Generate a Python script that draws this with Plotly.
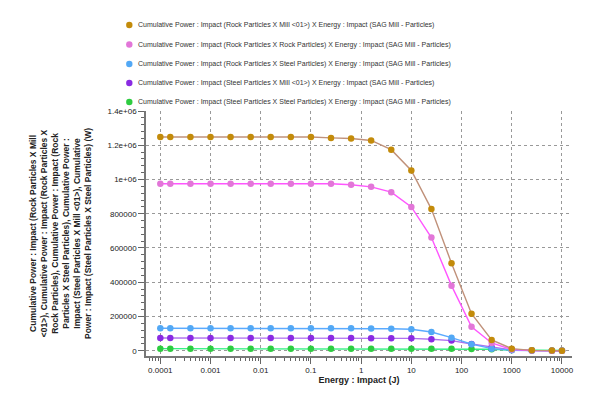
import plotly.graph_objects as go

# energy bins (J)
energy = [0.0001, 0.000158, 0.000398, 0.001, 0.00251, 0.00631, 0.0158, 0.0398, 0.1, 0.251,
          0.631, 1.58, 3.98, 10, 25.1, 63.1, 158, 398, 1000, 2510, 6310, 10000]

rock_mill = [1248000, 1248000, 1248000, 1248000, 1248000, 1248000, 1248000, 1248000, 1248000, 1243000,
             1239000, 1228000, 1174000, 1053000, 827000, 511000, 216000, 63000, 12000, 2000, 500, 0]
rock_rock = [975000, 975000, 975000, 975000, 975000, 975000, 975000, 975000, 975000, 975000,
             969000, 957000, 926000, 840000, 661000, 380000, 140000, 45000, 7000, 1000, 100, 0]
rock_steel = [131000, 131000, 131000, 131000, 131000, 131000, 131000, 131000, 131000, 131000,
              131000, 129000, 128000, 125000, 109000, 76000, 38000, 12000, 3000, 300, 0, 0]
steel_mill = [74000, 74000, 74000, 74000, 74000, 74000, 74000, 74000, 74000, 74000,
              74000, 73000, 73000, 72000, 67000, 59000, 39000, 20000, 5000, 1000, 200, 0]
steel_steel = [12000, 12000, 12000, 12000, 12000, 12000, 12000, 12000, 12000, 12000,
               12000, 12000, 12000, 12000, 12000, 11500, 10000, 8000, 4000, 2000, 1500, 1000]

names = [
    'Cumulative Power : Impact (Rock Particles X Mill &lt;01&gt;) X Energy : Impact (SAG Mill - Particles)',
    'Cumulative Power : Impact (Rock Particles X Rock Particles) X Energy : Impact (SAG Mill - Particles)',
    'Cumulative Power : Impact (Rock Particles X Steel Particles) X Energy : Impact (SAG Mill - Particles)',
    'Cumulative Power : Impact (Steel Particles X Mill &lt;01&gt;) X Energy : Impact (SAG Mill - Particles)',
    'Cumulative Power : Impact (Steel Particles X Steel Particles) X Energy : Impact (SAG Mill - Particles)',
]

x_tickvals = [0.0001, 0.001, 0.01, 0.1, 1, 10, 100, 1000, 10000]
x_ticktext = ['0.0001', '0.001', '0.01', '0.1', '1', '10', '100', '1000', '10000']
y_tickvals = [0, 200000, 400000, 600000, 800000, 1000000, 1200000, 1400000]
y_ticktext = ['0', '200000', '400000', '600000', '800000', '1e+06', '1.2e+06', '1.4e+06']

marker_colors = ['#c38b0a', '#e276d8', '#52a8f5', '#8a2be2', '#2ecc40']
line_colors = ['#c0917a', '#ff55ff', '#5aaaff', '#b070f0', '#30f080']

series = [rock_mill, rock_rock, rock_steel, steel_mill, steel_steel]

# page body has an 8px margin, so the margins below are shifted to compensate
W, H = 599, 401
ML, MT, MR, MB = 138, 103, 35, 53
plot_w = W - ML - MR
plot_h = H - MT - MB

fig = go.Figure()

# draw bottom series first so the top ones sit on top, like the original
for i in reversed(range(len(series))):
    fig.add_trace(go.Scatter(
        x=energy, y=series[i], mode='lines+markers', showlegend=False, name=names[i],
        line=dict(color=line_colors[i], width=1.4),
        marker=dict(color=marker_colors[i], size=6.5),
    ))

# legend drawn by hand: dot + text, rows as in the original
legend_rows = [17, 36.5, 56, 75, 94]   # px from top of figure
dot_x, text_x = 121.3, 128
for i in range(len(series)):
    px = (dot_x - ML) / plot_w
    py = (H - MB - legend_rows[i]) / plot_h
    fig.add_shape(type='circle', xref='paper', yref='paper',
                  xsizemode='pixel', ysizemode='pixel', xanchor=px, yanchor=py,
                  x0=-3.2, x1=3.2, y0=-3.2, y1=3.2,
                  fillcolor=marker_colors[i], line=dict(width=0))
    fig.add_annotation(text=names[i], showarrow=False, xref='paper', yref='paper',
                       x=(text_x - ML) / plot_w, y=py, xanchor='left', yanchor='middle',
                       font=dict(size=7, color='#333'))

fig.update_layout(
    width=W, height=H,
    margin=dict(l=ML, r=MR, t=MT, b=MB, autoexpand=False),
    paper_bgcolor='white', plot_bgcolor='white',
    font=dict(family='Liberation Sans, Arial, sans-serif', size=8, color='#222'),
    showlegend=False,
)

fig.update_xaxes(
    type='log', range=[-4.285, 4.2],
    tickmode='array', tickvals=x_tickvals, ticktext=x_ticktext,
    ticks='outside', ticklen=6, tickcolor='#666', tickfont=dict(size=8),
    showline=True, linecolor='#777', linewidth=1.5,
    showgrid=True, gridcolor='#999', griddash='dot', gridwidth=1,
    minor=dict(dtick='D1', ticks='outside', ticklen=3, tickcolor='#666', showgrid=False),
    zeroline=False,
    title=dict(text='<b>Energy : Impact (J)</b>', font=dict(size=9), standoff=2),
)

fig.update_yaxes(
    range=[-31000, 1400000],
    tickmode='array', tickvals=y_tickvals, ticktext=y_ticktext,
    ticks='outside', ticklen=6, tickcolor='#666', tickfont=dict(size=8),
    showline=True, linecolor='#777', linewidth=1.5,
    showgrid=True, gridcolor='#999', griddash='dot', gridwidth=1,
    minor=dict(dtick=40000, tick0=0, ticks='outside', ticklen=3, tickcolor='#666', showgrid=False),
    zeroline=False,
)

y_title = ('<b>Cumulative Power : Impact (Rock Particles X Mill<br>'
           '&lt;01&gt;), Cumulative Power : Impact (Rock Particles X<br>'
           'Rock Particles), Cumulative Power : Impact (Rock<br>'
           'Particles X Steel Particles), Cumulative Power :<br>'
           'Impact (Steel Particles X Mill &lt;01&gt;), Cumulative<br>'
           'Power : Impact (Steel Particles X Steel Particles) (W)</b>')

fig.add_annotation(
    text=y_title, textangle=-90, showarrow=False,
    xref='paper', yref='paper', x=(87 - ML) / plot_w, y=0.5, xanchor='right', yanchor='middle',
    align='center', font=dict(size=8.5, color='#222'),
)

fig.write_html('out.html')
